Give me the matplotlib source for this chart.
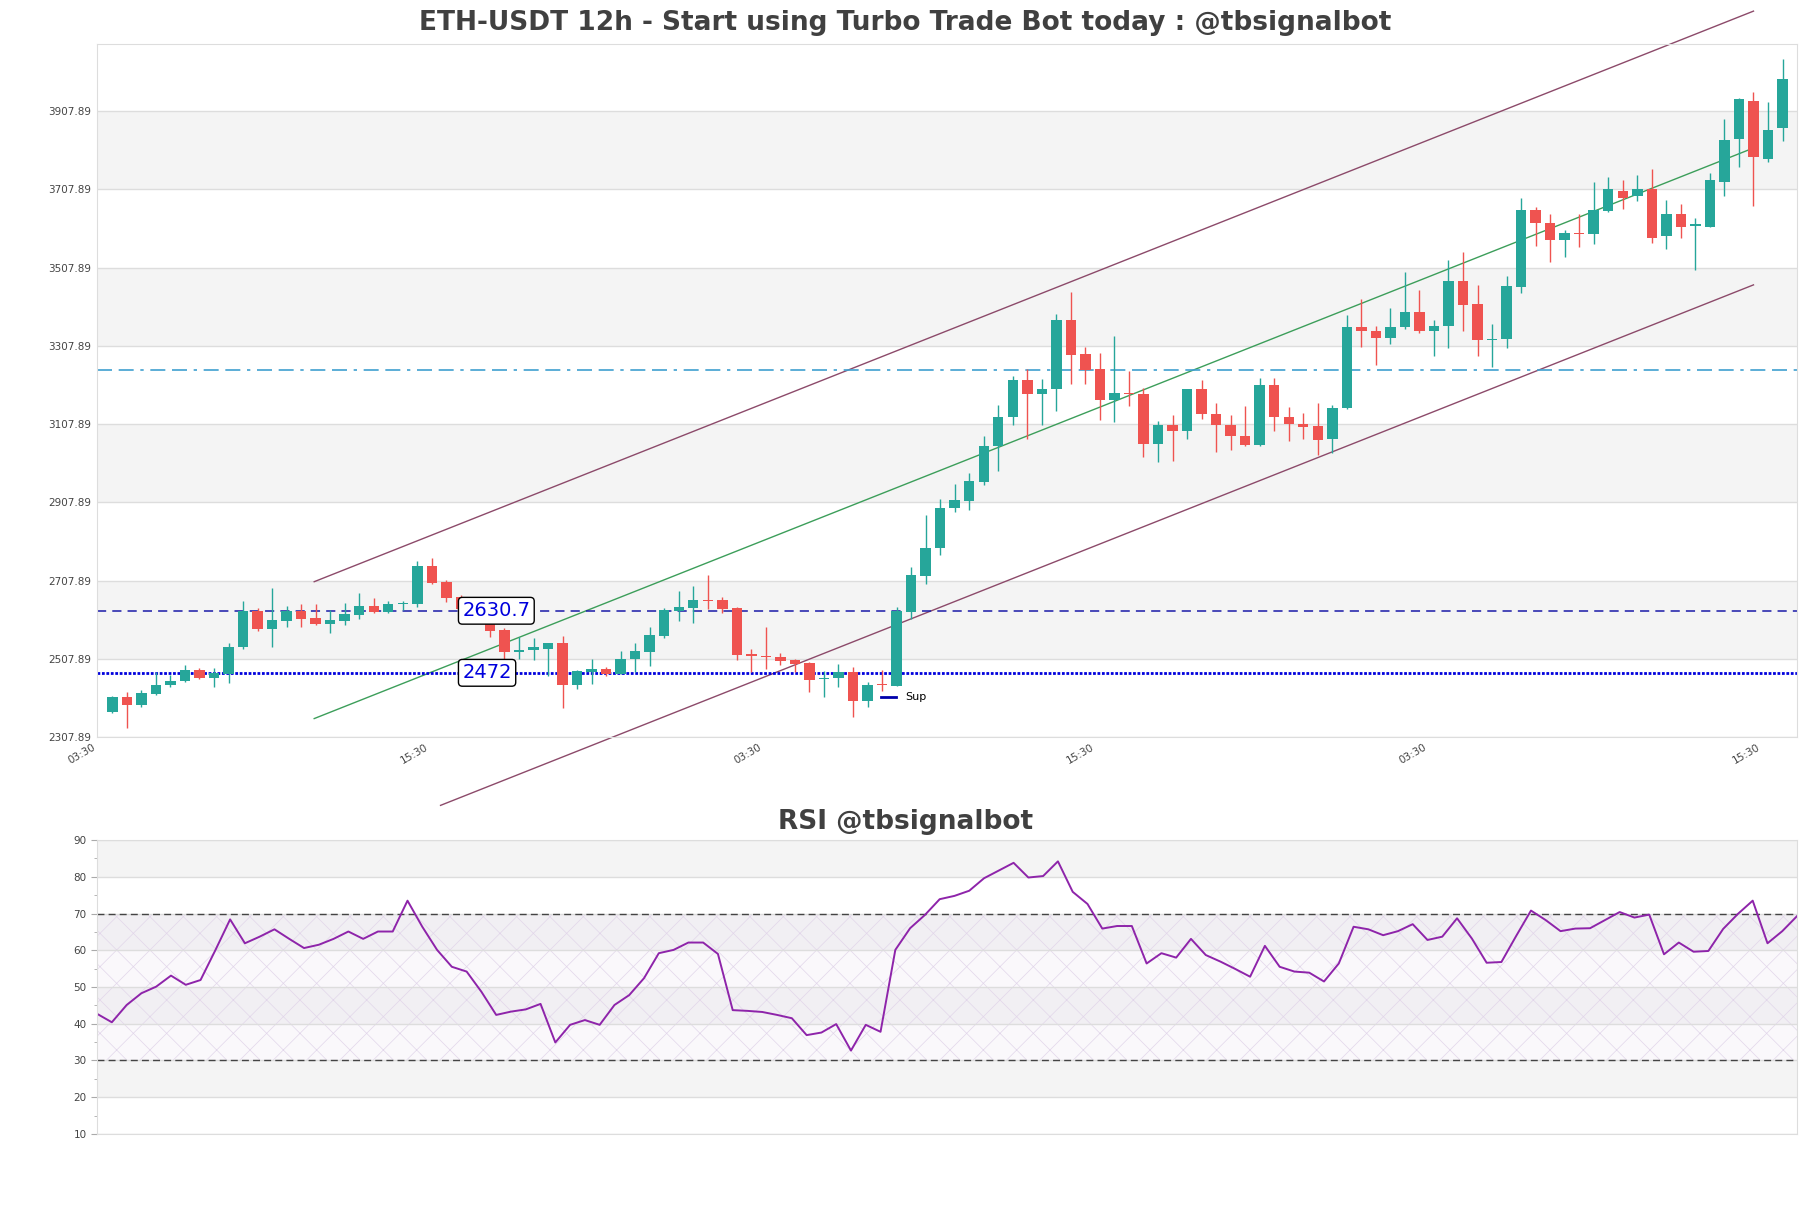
import numpy as np
import matplotlib.pyplot as plt
from matplotlib.lines import Line2D

# candle data (12h)
opens = [2372, 2410, 2389, 2418, 2442, 2451, 2478, 2459, 2470, 2537,
         2630, 2585, 2605, 2630, 2612, 2598, 2605, 2621, 2642, 2628,
         2647, 2647, 2746, 2703, 2665, 2634, 2614, 2582, 2526, 2530,
         2534, 2547, 2442, 2474, 2483, 2470, 2507, 2526, 2567, 2630,
         2638, 2659, 2658, 2639, 2519, 2516, 2513, 2504, 2496, 2455,
         2460, 2473, 2400, 2443, 2439, 2628, 2719, 2791, 2894, 2912,
         2961, 3051, 3126, 3222, 3185, 3198, 3374, 3287, 3250, 3169,
         3188, 3185, 3058, 3106, 3090, 3197, 3134, 3106, 3078, 3055,
         3209, 3127, 3109, 3102, 3070, 3149, 3356, 3346, 3327, 3356,
         3394, 3345, 3360, 3474, 3415, 3322, 3325, 3459, 3655, 3621,
         3580, 3596, 3593, 3653, 3704, 3692, 3709, 3590, 3645, 3614,
         3613, 3728, 3837, 3933, 3785, 3865]
highs = [2412, 2424, 2427, 2473, 2467, 2491, 2485, 2485, 2548, 2655,
         2637, 2688, 2642, 2647, 2647, 2632, 2651, 2676, 2663, 2655,
         2655, 2758, 2765, 2710, 2672, 2640, 2624, 2586, 2563, 2561,
         2548, 2567, 2479, 2508, 2488, 2529, 2547, 2589, 2639, 2680,
         2695, 2721, 2666, 2641, 2533, 2589, 2523, 2508, 2500, 2477,
         2494, 2488, 2449, 2479, 2641, 2743, 2876, 2916, 2955, 2982,
         3077, 3156, 3231, 3250, 3224, 3389, 3445, 3305, 3289, 3332,
         3244, 3201, 3116, 3132, 3197, 3222, 3162, 3130, 3153, 3227,
         3225, 3151, 3137, 3161, 3157, 3386, 3427, 3359, 3404, 3496,
         3451, 3374, 3528, 3549, 3464, 3364, 3487, 3685, 3664, 3645,
         3604, 3645, 3726, 3740, 3732, 3746, 3760, 3682, 3670, 3634,
         3751, 3888, 3943, 3956, 3932, 4041]
lows = [2369, 2332, 2384, 2416, 2437, 2449, 2455, 2437, 2445, 2534,
        2580, 2537, 2588, 2590, 2595, 2575, 2595, 2610, 2626, 2626,
        2632, 2641, 2700, 2653, 2628, 2606, 2563, 2449, 2508, 2506,
        2463, 2383, 2431, 2444, 2464, 2468, 2473, 2489, 2561, 2605,
        2600, 2636, 2624, 2505, 2473, 2481, 2491, 2473, 2422, 2411,
        2437, 2359, 2384, 2425, 2439, 2609, 2700, 2773, 2884, 2888,
        2951, 2989, 3105, 3070, 3105, 3141, 3211, 3211, 3118, 3113,
        3155, 3025, 3010, 3014, 3071, 3120, 3036, 3042, 3051, 3051,
        3091, 3066, 3071, 3028, 3034, 3146, 3305, 3258, 3313, 3351,
        3340, 3281, 3302, 3347, 3281, 3253, 3302, 3442, 3564, 3522,
        3534, 3560, 3568, 3651, 3659, 3679, 3570, 3557, 3585, 3502,
        3613, 3691, 3766, 3666, 3777, 3832]
closes = [2410, 2389, 2420, 2442, 2452, 2478, 2459, 2472, 2539, 2630,
          2585, 2607, 2630, 2610, 2597, 2607, 2622, 2642, 2628, 2647,
          2650, 2746, 2701, 2663, 2634, 2618, 2580, 2525, 2531, 2537,
          2547, 2442, 2476, 2483, 2469, 2508, 2529, 2569, 2632, 2640,
          2658, 2656, 2636, 2517, 2516, 2513, 2501, 2495, 2454, 2460,
          2473, 2400, 2442, 2440, 2630, 2721, 2790, 2893, 2914, 2962,
          3053, 3127, 3222, 3185, 3198, 3374, 3285, 3246, 3169, 3188,
          3185, 3058, 3106, 3090, 3197, 3133, 3105, 3077, 3055, 3209,
          3126, 3107, 3100, 3068, 3149, 3356, 3345, 3327, 3356, 3394,
          3345, 3360, 3474, 3413, 3322, 3325, 3461, 3655, 3621, 3580,
          3596, 3593, 3655, 3709, 3687, 3709, 3585, 3645, 3613, 3619,
          3732, 3834, 3939, 3790, 3861, 3990]

rsi = [42.7, 40.4, 45.1, 48.3, 50.1, 53.1, 50.6, 51.9, 60.0, 68.4,
       61.9, 63.7, 65.7, 63.1, 60.6, 61.5, 63.1, 65.1, 63.1, 65.1,
       65.1, 73.5, 66.4, 60.1, 55.5, 54.2, 48.7, 42.4, 43.3, 43.9,
       45.4, 34.9, 39.7, 41.0, 39.7, 45.1, 47.8, 52.4, 59.2, 60.1,
       62.1, 62.1, 59.0, 43.7, 43.5, 43.2, 42.4, 41.5, 36.9, 37.6,
       39.9, 32.7, 39.7, 37.8, 60.1, 66.0, 69.6, 73.9, 74.8, 76.2,
       79.6, 81.7, 83.8, 79.8, 80.2, 84.2, 75.9, 72.6, 65.9, 66.6,
       66.6, 56.4, 59.2, 58.0, 63.1, 58.7, 56.9, 54.9, 52.8, 61.2,
       55.5, 54.2, 53.9, 51.5, 56.4, 66.4, 65.7, 64.1, 65.2, 67.1,
       62.8, 63.7, 68.7, 63.2, 56.6, 56.8, 63.9, 70.8, 68.2, 65.2,
       65.9, 66.0, 68.2, 70.4, 68.9, 69.7, 58.9, 62.1, 59.6, 59.8,
       65.8, 69.9, 73.5, 61.9, 65.2, 69.3]

tick_labels = ["03:30", "15:30", "03:30", "15:30", "03:30", "15:30"]

sup_levels = [2630.7, 2472.0]
res_level = 3246.0

# price channel
chan_x = [13.9, 113.0]
chan_mid = [2355.0, 3814.0]
chan_half = 350.0
lower_start = 22.6

ybase = 2307.89
ystep = 200.0

# ----------------------------------------------------------------------
fig = plt.figure(figsize=(18.11, 12.08), dpi=100)
ax = fig.add_axes([0.0536, 0.3899, 0.9387, 0.5737])
ax2 = fig.add_axes([0.0536, 0.0613, 0.9387, 0.2433])

grid_c = "#dddddd"
band_c = "#f4f4f4"
txt_c = "#404040"
title_x = (0.5 - 0.0536) / 0.9387   # titles sit at the figure centre

n = len(closes)
x = np.arange(n)
o = np.array(opens, float)
c = np.array(closes, float)
h = np.array(highs, float)
l = np.array(lows, float)
up = c >= o
cols = np.where(up, "#26a69a", "#ef5350")

ymin, ymax = ybase, 4080
yt = ybase + ystep * np.arange(9)
for k in range(1, 8, 2):
    ax.axhspan(yt[k], yt[k + 1], color=band_c, zorder=0, lw=0)
for v in yt:
    ax.axhline(v, color=grid_c, lw=1, zorder=0.5)

# channel lines
slope = (chan_mid[1] - chan_mid[0]) / (chan_x[1] - chan_x[0])
cx = np.array(chan_x)
cm = np.array(chan_mid)
ax.plot(cx, cm + chan_half, color="#8c4a6a", lw=1, zorder=1, clip_on=False)
ax.plot(cx, cm, color="#3c9e5a", lw=1, zorder=1)
lx = np.array([lower_start, chan_x[1]])
ly = chan_mid[0] + slope * (lx - chan_x[0]) - chan_half
ax.plot(lx, ly, color="#8c4a6a", lw=1, zorder=1, clip_on=False)

# horizontal levels
ax.axhline(res_level, color="#3fa0d0", lw=1.2, dashes=(9, 4, 9, 4, 2, 4), zorder=1.5)
ax.axhline(sup_levels[0], color="#1a1aa8", lw=1.1, dashes=(6, 4), zorder=1.5)
ax.axhline(sup_levels[1], color="#0000dd", lw=2.0, dashes=(1, 0.6), zorder=1.5)

# candles
ax.vlines(x, l, h, colors=cols, lw=1, zorder=3)
body = np.maximum(np.abs(c - o), 3)
ax.bar(x, body, bottom=np.minimum(o, c), width=0.72, color=cols, zorder=3.5)

for v in sup_levels:
    ax.text(24.1, v, f"{v:g}", fontsize=14, color="#0000dd", ha="left", va="center",
            zorder=5, bbox=dict(boxstyle="round,pad=0.2", fc="white", ec="black", lw=1))

ax.legend(handles=[Line2D([], [], color="#0000aa", lw=2)], labels=["Sup"],
          loc="center left", bbox_to_anchor=(0.461, 0.057), frameon=False,
          fontsize=8, handlelength=1.4, borderpad=0, borderaxespad=0)

ax.set_xlim(-1.05, 116.0)
ax.set_ylim(ymin, ymax)
ax.set_yticks(yt)
ax.set_yticklabels([f"{v:.2f}" for v in yt])
ax.set_xticks(-1.05 + 22.92 * np.arange(len(tick_labels)))
ax.set_xticklabels(tick_labels, rotation=30, ha="right")
ax.tick_params(length=0, labelsize=7.5, labelcolor="#444444", pad=4)
for s in ax.spines.values():
    s.set_color(grid_c)
ax.set_title("ETH-USDT 12h - Start using Turbo Trade Bot today : @tbsignalbot",
             fontsize=19, fontweight="bold", color=txt_c, pad=10, x=title_x)

# RSI panel
plt.rcParams["hatch.linewidth"] = 0.5
for lo in (20, 40, 60, 80):
    ax2.axhspan(lo, lo + 10, color=band_c, zorder=0, lw=0)
ax2.fill_between([0, n - 1], 30, 70, facecolor="none", edgecolor="#e2d6ea",
                 hatch="x", lw=0, zorder=0.3)
ax2.axhspan(30, 70, color="#ece4f2", alpha=0.25, lw=0, zorder=0.2)
for v in range(10, 91, 10):
    ax2.axhline(v, color=grid_c, lw=1, zorder=0.5)
ax2.axhline(70, color="#444444", lw=1, dashes=(5, 3), zorder=1)
ax2.axhline(30, color="#444444", lw=1, dashes=(5, 3), zorder=1)
ax2.plot(np.arange(len(rsi)), rsi, color="#8e24aa", lw=1.4, zorder=2)
ax2.set_xlim(0, len(rsi) - 1)
ax2.set_ylim(10, 90)
ax2.set_yticks(range(10, 91, 10))
ax2.set_yticks(range(15, 90, 10), minor=True)
ax2.set_xticks([])
ax2.tick_params(axis="y", which="major", length=4, color="#aaaaaa",
                labelsize=7.5, labelcolor="#444444")
ax2.tick_params(axis="y", which="minor", length=2, color="#aaaaaa")
for s in ax2.spines.values():
    s.set_color(grid_c)
ax2.set_title("RSI @tbsignalbot", fontsize=19, fontweight="bold", color=txt_c,
              pad=8, x=title_x)

fig.savefig("out.png", dpi=100)
